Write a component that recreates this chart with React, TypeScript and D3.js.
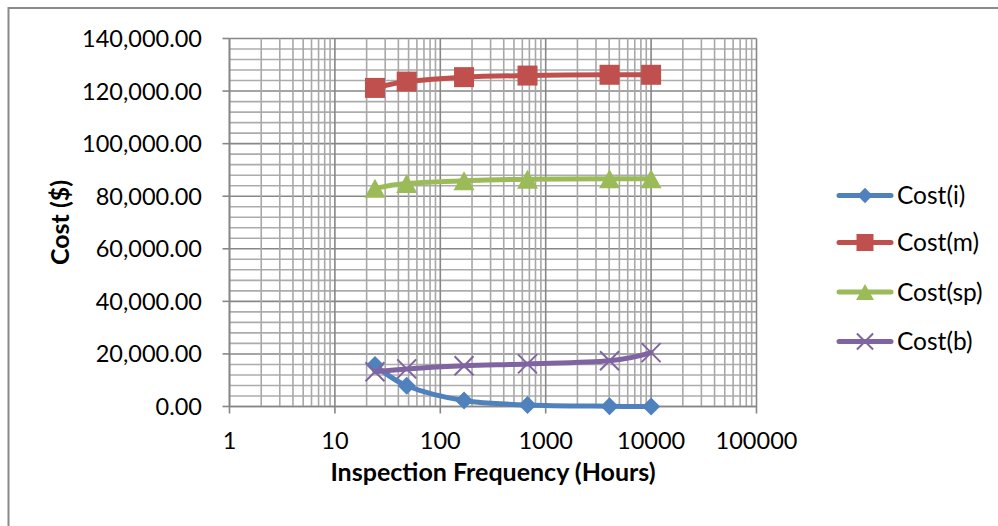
import React from "react";
import * as d3 from "d3";

const hours = [24, 48, 168, 672, 4032, 10000];
const costI = [15800, 7900, 2260, 560, 94, 38];
const costM = [121200, 123600, 125300, 125900, 126200, 126200];
const costSp = [83000, 84800, 85900, 86500, 86600, 86600];
const costB = [13200, 14300, 15500, 16200, 17400, 20500];

const seriesNames = ["Cost(i)", "Cost(m)", "Cost(sp)", "Cost(b)"];
const seriesColors = ["#4F81BD", "#C0504D", "#9BBB59", "#8064A2"];
const seriesShapes = ["diamond", "square", "triangle", "x"];
const seriesValues = [costI, costM, costSp, costB];

const xTickValues = [1, 10, 100, 1000, 10000, 100000];
const yTickValues = [0, 20000, 40000, 60000, 80000, 100000, 120000, 140000];

const W = 998;
const H = 526;
const FONT = "Lato, 'Open Sans', sans-serif";

function Marker({ shape, x, y, color, s = 1 }: { shape: string; x: number; y: number; color: string; s?: number }) {
  if (shape === "diamond") {
    const r = 9 * s;
    return <path d={`M${x},${y - r}L${x + r},${y}L${x},${y + r}L${x - r},${y}Z`} fill={color} />;
  }
  if (shape === "square") {
    const r = 10 * s;
    return <rect x={x - r} y={y - r} width={2 * r} height={2 * r} fill={color} />;
  }
  if (shape === "triangle") {
    const w = 10.5 * s;
    const h = 9.5 * s;
    return <path d={`M${x},${y - h}L${x + w},${y + h}L${x - w},${y + h}Z`} fill={color} />;
  }
  const r = 9.5 * s;
  return (
    <path
      d={`M${x - r},${y - r}L${x + r},${y + r}M${x - r},${y + r}L${x + r},${y - r}`}
      stroke={color}
      strokeWidth={2}
      fill="none"
    />
  );
}

export default function App() {
  const x = d3.scaleLog().domain([1, 100000]).range([229.5, 756.5]);
  const y = d3.scaleLinear().domain([0, 140000]).range([406.5, 38.5]);

  const xGrid: { v: number; major: boolean }[] = [];
  for (let e = 0; e < 5; e++) {
    for (let k = 1; k <= 9; k++) xGrid.push({ v: k * Math.pow(10, e), major: k === 1 });
  }
  xGrid.push({ v: 100000, major: true });
  const yGrid = d3.range(0, 140001, 4000).map((v) => ({ v, major: v % 20000 === 0 }));

  const line = d3
    .line<number>()
    .x((_, i) => x(hours[i]))
    .y((d) => y(d))
    .curve(d3.curveCatmullRom.alpha(0));

  const legendY = [195.5, 242.5, 292, 341.5];
  const fmt = d3.format(",.2f");

  return (
    <svg
      width={W}
      height={H}
      style={{ position: "absolute", left: 0, top: 0, display: "block", background: "#fff" }}
      fontFamily={FONT}
    >
      <rect x={0} y={0} width={W} height={H} fill="#fff" />
      <rect x={8.5} y={8} width={W + 20} height={H + 20} fill="none" stroke="#8a8a8a" strokeWidth={2} />
      {/* grid */}
      {yGrid.map((g) => (
        <line
          key={"y" + g.v}
          x1={x(1)}
          x2={x(100000)}
          y1={y(g.v)}
          y2={y(g.v)}
          stroke={g.major ? "#878787" : "#acacac"}
          strokeWidth={1.6}
        />
      ))}
      {xGrid.map((g, i) => (
        <line
          key={"x" + i}
          x1={x(g.v)}
          x2={x(g.v)}
          y1={y(0)}
          y2={y(140000)}
          stroke={g.major ? "#878787" : "#a8a8a8"}
          strokeWidth={1.6}
        />
      ))}
      {/* axes */}
      <line x1={x(1)} x2={x(1)} y1={y(0)} y2={y(140000)} stroke="#868686" strokeWidth={1.6} />
      <line x1={x(1)} x2={x(100000)} y1={y(0)} y2={y(0)} stroke="#868686" strokeWidth={1.6} />
      {yTickValues.map((v) => (
        <g key={"yt" + v}>
          <line x1={x(1) - 7} x2={x(1)} y1={y(v)} y2={y(v)} stroke="#868686" strokeWidth={1.6} />
          <text x={202} y={y(v)} dy="0.36em" textAnchor="end" fontSize={23.5} fill="#000">
            {fmt(v)}
          </text>
        </g>
      ))}
      {xTickValues.map((v) => (
        <g key={"xt" + v}>
          <line x1={x(v)} x2={x(v)} y1={y(0)} y2={y(0) + 7} stroke="#868686" strokeWidth={1.6} />
          <text x={x(v)} y={449} textAnchor="middle" fontSize={23.5} fill="#000">
            {String(v)}
          </text>
        </g>
      ))}
      <text x={493} y={481} textAnchor="middle" fontSize={25} fontWeight="bold" fill="#000">
        Inspection Frequency (Hours)
      </text>
      <text
        transform={`translate(60,222.5) rotate(-90)`}
        dy="0.36em"
        textAnchor="middle"
        fontSize={25}
        fontWeight="bold"
        fill="#000"
      >
        Cost ($)
      </text>
      {/* series */}
      {seriesValues.map((vals, si) => (
        <g key={"s" + si}>
          <path
            d={line(vals) || ""}
            fill="none"
            stroke={seriesColors[si]}
            strokeWidth={5}
            strokeLinecap="round"
            strokeLinejoin="round"
          />
          {vals.map((v, i) => (
            <Marker key={i} shape={seriesShapes[si]} x={x(hours[i])} y={y(v)} color={seriesColors[si]} />
          ))}
        </g>
      ))}
      {/* legend */}
      {seriesNames.map((n, i) => (
        <g key={"l" + i}>
          <line
            x1={839}
            x2={891}
            y1={legendY[i]}
            y2={legendY[i]}
            stroke={seriesColors[i]}
            strokeWidth={5}
            strokeLinecap="round"
          />
          <Marker shape={seriesShapes[i]} x={865} y={legendY[i]} color={seriesColors[i]} s={0.85} />
          <text x={897} y={legendY[i]} dy="0.36em" fontSize={24.5} fill="#000">
            {n}
          </text>
        </g>
      ))}
    </svg>
  );
}
